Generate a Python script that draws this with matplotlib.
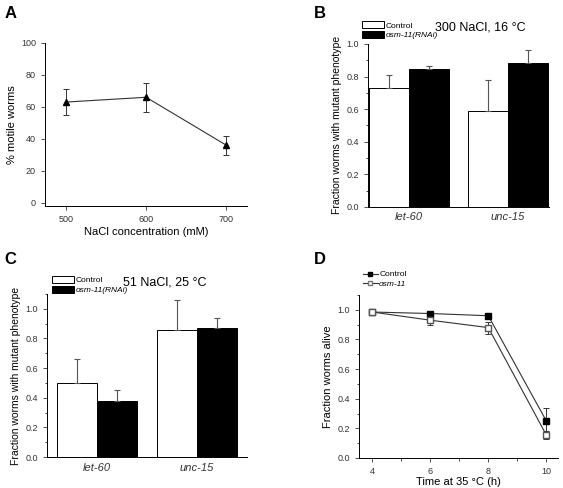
import matplotlib
matplotlib.use("Agg")
import matplotlib.pyplot as plt
from matplotlib.ticker import MultipleLocator
from matplotlib.lines import Line2D
import numpy as np

plt.rcParams['font.family'] = ['Liberation Sans', 'DejaVu Sans']

# panel A
nacl = [500, 600, 700]
motile = [63, 66, 36]
motile_err = [8, 9, 6]

# panel B and C
genes = ['let-60', 'unc-15']
b_control = [0.73, 0.59]
b_control_err = [0.08, 0.19]
b_rnai = [0.845, 0.88]
b_rnai_err = [0.02, 0.08]
c_control = [0.50, 0.86]
c_control_err = [0.16, 0.20]
c_rnai = [0.38, 0.87]
c_rnai_err = [0.07, 0.07]

# panel D
hours = [4, 6, 8, 10]
d_control = [0.985, 0.975, 0.96, 0.25]
d_control_err = [0.01, 0.01, 0.01, 0.085]
d_osm = [0.985, 0.93, 0.88, 0.155]
d_osm_err = [0.01, 0.03, 0.04, 0.03]

fig = plt.figure(figsize=(5.63, 4.88), dpi=100)
axA = fig.add_axes([0.080, 0.578, 0.359, 0.334])
axB = fig.add_axes([0.654, 0.576, 0.321, 0.334])
axC = fig.add_axes([0.0835, 0.0635, 0.355, 0.334])
axD = fig.add_axes([0.638, 0.0615, 0.353, 0.334])

for ax in (axA, axB, axC, axD):
    ax.spines['top'].set_visible(False)
    ax.spines['right'].set_visible(False)
    ax.spines['left'].set_linewidth(0.7)
    ax.spines['bottom'].set_linewidth(0.7)
    ax.tick_params(labelsize=6.5, width=0.6, length=3, colors='#333333')
    ax.tick_params(which='minor', width=0.5, length=1.8)

# A
axA.errorbar(nacl, motile, yerr=motile_err, color='#333333', lw=0.8, marker='^',
             ms=5, mfc='black', mec='black', capsize=2.5, elinewidth=0.7, capthick=0.7)
axA.set_xlim(474, 726)
axA.set_ylim(-2, 100)
axA.set_xticks(nacl)
axA.set_yticks([0, 20, 40, 60, 80, 100])
axA.set_xlabel('NaCl concentration (mM)', fontsize=8, labelpad=2)
axA.set_ylabel('% motile worms', fontsize=8, labelpad=3)


def bars(ax, control, control_err, rnai, rnai_err, xlim, top, note, lx, ly, nx):
    x = np.arange(len(genes))
    w = 0.4
    ax.bar(x - w / 2, control, w, color='white', edgecolor='black', lw=0.7,
           label='Control')
    ax.bar(x + w / 2, rnai, w, color='black', edgecolor='black', lw=0.7,
           label='osm-11(RNAi)')
    ax.errorbar(x - w / 2, control, yerr=[np.zeros(len(x)), control_err], fmt='none',
                ecolor='#555555', elinewidth=0.8, capsize=2.5, capthick=0.8)
    ax.errorbar(x + w / 2, rnai, yerr=[np.zeros(len(x)), rnai_err], fmt='none',
                ecolor='#555555', elinewidth=0.8, capsize=2.5, capthick=0.8)
    ax.set_xlim(*xlim)
    ax.set_ylim(0, top)
    ax.set_xticks(x)
    ax.set_xticklabels(genes, fontsize=8, style='italic')
    ax.tick_params(axis='x', length=0, pad=4)
    ax.set_yticks(np.arange(0, 1.01, 0.2))
    ax.yaxis.set_minor_locator(MultipleLocator(0.1))
    ax.set_ylabel('Fraction worms with mutant phenotype', fontsize=7.5, labelpad=3)
    leg = ax.legend(loc='upper left', bbox_to_anchor=(lx, ly), frameon=False,
                    fontsize=6, handlelength=2.6, handleheight=0.9,
                    labelspacing=0.15, handletextpad=0.2, borderaxespad=0)
    leg.get_texts()[1].set_style('italic')
    ax.text(nx, ly - 0.06, note, transform=ax.transAxes, fontsize=9,
            ha='center', va='center')


bars(axB, b_control, b_control_err, b_rnai, b_rnai_err, (-0.41, 1.41), 1.0,
     '300 NaCl, 16 °C', -0.05, 1.16, 0.62)
bars(axC, c_control, c_control_err, c_rnai, c_rnai_err, (-0.5, 1.5), 1.1,
     '51 NaCl, 25 °C', 0.01, 1.13, 0.59)

# D
axD.errorbar(hours, d_control, yerr=d_control_err, color='#333333', lw=0.8,
             marker='s', ms=4, mfc='black', mec='black', capsize=2.5,
             elinewidth=0.7, capthick=0.7)
axD.errorbar(hours, d_osm, yerr=d_osm_err, color='#333333', lw=0.8,
             marker='s', ms=4, mfc='white', mec='#555555', capsize=2.5,
             elinewidth=0.7, capthick=0.7)
axD.set_xlim(3.55, 10.4)
axD.set_ylim(0, 1.1)
axD.set_xticks(hours)
axD.xaxis.set_minor_locator(MultipleLocator(1))
axD.set_yticks(np.arange(0, 1.01, 0.2))
axD.yaxis.set_minor_locator(MultipleLocator(0.1))
axD.set_xlabel('Time at 35 °C (h)', fontsize=8, labelpad=1)
axD.set_ylabel('Fraction worms alive', fontsize=8, labelpad=3)
handles = [Line2D([], [], color='#333333', lw=0.8, marker='s', ms=3,
                  mfc='black', mec='black'),
           Line2D([], [], color='#333333', lw=0.8, marker='s', ms=3,
                  mfc='white', mec='#777777')]
leg = axD.legend(handles, ['Control', 'osm-11'], loc='upper left',
                 bbox_to_anchor=(0.0, 1.17), frameon=False, fontsize=6,
                 handlelength=1.8, labelspacing=0.2, handletextpad=0.2,
                 borderaxespad=0)
leg.get_texts()[1].set_style('italic')

# panel letters
for lab, x, y in [('A', 0.008, 0.972), ('B', 0.558, 0.972),
                  ('C', 0.008, 0.468), ('D', 0.558, 0.468)]:
    fig.text(x, y, lab, fontsize=12, fontweight='bold', va='center')

fig.savefig('out.png', dpi=100)
